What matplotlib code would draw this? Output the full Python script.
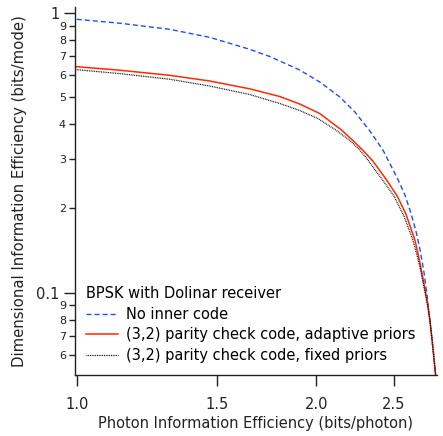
import matplotlib
matplotlib.use("Agg")
import matplotlib.pyplot as plt
from matplotlib.ticker import FixedLocator, FixedFormatter, NullLocator

plt.rcParams['font.family'] = ['DejaVu Sans']

# Data
pie_none = [1.0, 1.1316, 1.3079, 1.4689, 1.6489, 1.7476, 1.9056, 2.0197, 2.1403, 2.2355, 2.3348,
            2.4243, 2.5340, 2.5837, 2.6288, 2.6673, 2.6984, 2.7297, 2.7537, 2.7773, 2.8043, 2.8245]
die_none = [0.9472, 0.9173, 0.8725, 0.8167, 0.7402, 0.6975, 0.6242, 0.5656, 0.5000, 0.4420, 0.3780,
            0.3233, 0.2527, 0.2233, 0.1926, 0.1661, 0.1432, 0.1186, 0.0989, 0.0786, 0.0624, 0.0508]

pie_adapt = [1.0, 1.1316, 1.3079, 1.4689, 1.6489, 1.7989, 1.9056, 2.0197, 2.1507, 2.2158, 2.2896, 2.3548,
             2.4501, 2.5265, 2.5910, 2.6594, 2.6825, 2.6984, 2.7297, 2.7613, 2.7773, 2.7975, 2.8236]
die_adapt = [0.6415, 0.6232, 0.5977, 0.5702, 0.5348, 0.5020, 0.4720, 0.4365, 0.3811, 0.3525, 0.3220, 0.2953,
             0.2527, 0.2215, 0.1910, 0.1542, 0.1386, 0.1276, 0.1079, 0.0904, 0.0799, 0.0661, 0.0508]

pie_fixed = [1.0, 1.1316, 1.3079, 1.4689, 1.6489, 1.7989, 1.9056, 2.0081, 2.1154, 2.2031, 2.2678, 2.3209,
             2.4219, 2.5024, 2.5760, 2.6440, 2.6749, 2.6984, 2.7297, 2.7573, 2.7773, 2.7975, 2.8236]
die_fixed = [0.6258, 0.6061, 0.5787, 0.5472, 0.5104, 0.4739, 0.4474, 0.4190, 0.3811, 0.3496, 0.3233, 0.2978,
             0.2527, 0.2215, 0.1879, 0.1542, 0.1364, 0.1235, 0.1048, 0.0904, 0.0799, 0.0661, 0.0508]

labels = ["No inner code", "(3,2) parity check code, adaptive priors", "(3,2) parity check code, fixed priors"]
legend_title = "BPSK with Dolinar receiver"

x_ticks = [1.0, 1.5, 2.0, 2.5]
x_ticklabels = ["1.0", "1.5", "2.0", "2.5"]
y_major = [0.1, 1.0]
y_major_labels = ["0.1", "1"]
y_minor = [0.06, 0.07, 0.08, 0.09, 0.2, 0.3, 0.4, 0.5, 0.6, 0.7, 0.8, 0.9]
y_minor_labels = ["6", "7", "8", "9", "2", "3", "4", "5", "6", "7", "8", "9"]

fig = plt.figure(figsize=(4.43, 4.36), dpi=100)
W, H = 443, 436
ax = fig.add_axes([75 / W, 1 - 375 / H, (437 - 75) / W, (375 - 7) / H])

ax.plot(pie_none, die_none, color="#2848ff", lw=1.0, dashes=(3.6, 2.2), label=labels[0])
ax.plot(pie_adapt, die_adapt, color="#ff2a00", lw=1.1, label=labels[1])
ax.plot(pie_fixed, die_fixed, color="black", lw=0.9, dashes=(0.7, 0.7), label=labels[2])

ax.set_xscale("log")
ax.set_yscale("log")
ax.set_xlim(0.995, 2.835)
ax.set_ylim(0.0508, 1.048)

ax.xaxis.set_major_locator(FixedLocator(x_ticks))
ax.xaxis.set_major_formatter(FixedFormatter(x_ticklabels))
ax.xaxis.set_minor_locator(NullLocator())
ax.yaxis.set_major_locator(FixedLocator(y_major))
ax.yaxis.set_major_formatter(FixedFormatter(y_major_labels))
ax.yaxis.set_minor_locator(FixedLocator(y_minor))
ax.yaxis.set_minor_formatter(FixedFormatter(y_minor_labels))

for s in ["top", "right"]:
    ax.spines[s].set_visible(False)
for s in ["left", "bottom"]:
    ax.spines[s].set_linewidth(1.0)
    ax.spines[s].set_color("#222222")

ax.tick_params(axis="x", which="major", direction="out", length=8, width=1.0, labelsize=10.5, pad=8, colors="#222222")
ax.tick_params(axis="y", which="major", direction="out", length=8, width=1.0, labelsize=10.5, pad=3, colors="#222222")
ax.tick_params(axis="y", which="minor", direction="out", length=4.5, width=1.0, labelsize=8, pad=2, colors="#222222")

ax.set_xlabel("Photon Information Efficiency (bits/photon)", fontsize=10.5, labelpad=3, color="#222222")
ax.set_ylabel("Dimensional Information Efficiency (bits/mode)", fontsize=10.7, labelpad=7, color="#222222")

leg = ax.legend(title=legend_title, loc="lower left", bbox_to_anchor=(86 / W, 1 - 363 / H),
                bbox_transform=fig.transFigure, frameon=False, fontsize=10.5, title_fontsize=10.5,
                handlelength=2.17, handletextpad=0.58, labelspacing=0.38, borderpad=0.0,
                borderaxespad=0.0, alignment="left")

fig.savefig("out.png", dpi=100)
